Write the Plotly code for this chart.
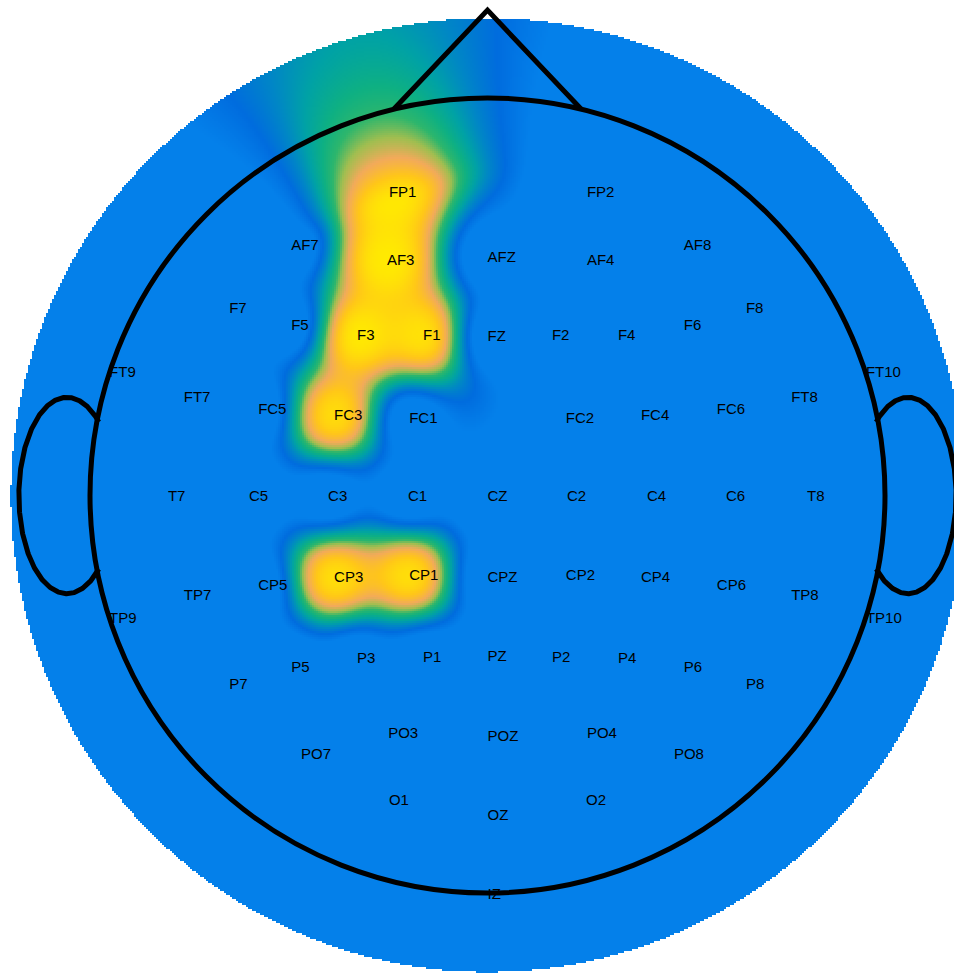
import numpy as np
import plotly.graph_objects as go

# Channel montage (head units: head circle radius = 1) and measured amplitudes
channels = ["FP1", "FP2", "AF7", "AF3", "AFZ", "AF4", "AF8",
            "F7", "F5", "F3", "F1", "FZ", "F2", "F4", "F6", "F8",
            "FT9", "FT7", "FC5", "FC3", "FC1", "FC2", "FC4", "FC6", "FT8", "FT10",
            "T7", "C5", "C3", "C1", "CZ", "C2", "C4", "C6", "T8",
            "TP9", "TP7", "CP5", "CP3", "CP1", "CPZ", "CP2", "CP4", "CP6", "TP8", "TP10",
            "P7", "P5", "P3", "P1", "PZ", "P2", "P4", "P6", "P8",
            "PO7", "PO3", "POZ", "PO4", "PO8",
            "O1", "OZ", "O2", "IZ"]
pos_x = [-0.248, 0.250, -0.494, -0.253, 0.000, 0.250, 0.494,
         -0.650, -0.494, -0.328, -0.162, 0.000, 0.162, 0.328, 0.494, 0.650,
         -0.952, -0.764, -0.577, -0.386, -0.197, 0.197, 0.386, 0.577, 0.764, 0.952,
         -0.804, -0.600, -0.401, -0.200, 0.000, 0.200, 0.401, 0.600, 0.804,
         -0.952, -0.764, -0.577, -0.386, -0.197, 0.000, 0.197, 0.386, 0.577, 0.764, 0.952,
         -0.650, -0.494, -0.328, -0.162, 0.000, 0.162, 0.328, 0.494, 0.650,
         -0.469, -0.250, 0.000, 0.250, 0.469,
         -0.248, 0.000, 0.248, 0.000]
pos_y = [0.761, 0.761, 0.628, 0.590, 0.597, 0.590, 0.628,
         0.469, 0.426, 0.401, 0.401, 0.399, 0.401, 0.401, 0.426, 0.469,
         0.308, 0.245, 0.215, 0.200, 0.192, 0.192, 0.200, 0.215, 0.245, 0.308,
         -0.004, -0.004, -0.004, -0.004, -0.004, -0.004, -0.004, -0.004, -0.004,
         -0.311, -0.253, -0.228, -0.208, -0.203, -0.208, -0.203, -0.208, -0.228, -0.253, -0.311,
         -0.477, -0.434, -0.411, -0.409, -0.406, -0.409, -0.411, -0.434, -0.477,
         -0.653, -0.600, -0.608, -0.600, -0.653,
         -0.769, -0.806, -0.769, -1.005]
amplitude = [1.00, 0.00, 0.00, 1.00, 0.00, 0.00, 0.00,
             0.00, 0.00, 1.00, 0.97, 0.00, 0.00, 0.00, 0.00, 0.00,
             0.00, 0.00, 0.00, 0.95, 0.00, 0.00, 0.00, 0.00, 0.00, 0.00,
             0.00, 0.00, 0.00, 0.00, 0.00, 0.00, 0.00, 0.00, 0.00,
             0.00, 0.00, 0.00, 0.96, 0.96, 0.00, 0.00, 0.00, 0.00, 0.00, 0.00,
             0.00, 0.00, 0.00, 0.00, 0.00, 0.00, 0.00, 0.00, 0.00,
             0.00, 0.00, 0.00, 0.00, 0.00,
             0.00, 0.00, 0.00, 0.00]

ex = np.array(pos_x)
ey = np.array(pos_y)
ev = np.array(amplitude)


def idw(px, py, power=3.5, background_weight=20.0):
    """Inverse-distance weighted channel field with a zero-valued background term."""
    num = np.zeros_like(px)
    den = np.full_like(px, background_weight)
    for x0, y0, val in zip(ex, ey, ev):
        w = 1.0 / np.maximum(np.hypot(px - x0, py - y0), 1e-4) ** power
        num += w * val
        den += w
    return num / den


def gaussian_smooth(field, sigma):
    """Separable Gaussian smoothing of a 2-D grid (edge padded)."""
    half = int(3 * sigma)
    k = np.exp(-0.5 * (np.arange(-half, half + 1) / sigma) ** 2)
    k /= k.sum()
    padded = np.pad(field, half, mode="edge")
    rows = np.apply_along_axis(lambda r: np.convolve(r, k, mode="valid"), 1, padded)
    return np.apply_along_axis(lambda c: np.convolve(c, k, mode="valid"), 0, rows)


def circular_smooth(profile, sigma_deg, dtheta_deg):
    """Gaussian smoothing of a periodic angular profile."""
    half = int(3 * sigma_deg / dtheta_deg)
    k = np.exp(-0.5 * (np.arange(-half, half + 1) * dtheta_deg / sigma_deg) ** 2)
    k /= k.sum()
    wrapped = np.concatenate([profile[-half:], profile, profile[:half]])
    return np.convolve(wrapped, k, mode="valid")


# Interpolation grid covering the plotting disk (radius 1.2)
DISK_R = 1.2
RING_R = 0.8          # radius of the outermost 10-10 ring
step = 2.0 / 397.5
gx = np.arange(-DISK_R - 0.05, DISK_R + 0.05 + step, step)
gy = np.arange(-DISK_R - 0.05, DISK_R + 0.05 + step, step)
U, V = np.meshgrid(gx, gy)
R = np.hypot(U, V)
TH = np.arctan2(V, U)

# inside the ring: direct interpolation
Z_in = idw(U, V)

# outside the ring: the ring profile is carried outwards, widening and decaying
n_theta = 1440
theta = np.linspace(-np.pi, np.pi, n_theta, endpoint=False)
ring = idw(RING_R * np.cos(theta), RING_R * np.sin(theta))
dth = 360.0 / n_theta
ring_near = circular_smooth(ring, 3.0, dth)
ring_far = circular_smooth(ring, 11.0, dth)
per = lambda prof: np.interp(TH, theta, prof, period=2 * np.pi)
beta = np.clip((R - RING_R) / (DISK_R - RING_R), 0.0, 1.0)
decay = 0.45 + 0.55 * np.exp(-np.maximum(R - RING_R, 0.0) / 0.16)
Z_out = ((1 - beta) * per(ring_near) + beta * per(ring_far)) * decay

Z = np.where(R <= RING_R, Z_in, Z_out)
Z = gaussian_smooth(Z, 5.0)
Z = np.where(R <= DISK_R, np.round(Z, 3), np.nan)

colorscale = [
    [0.00, "rgb(4,128,234)"],
    [0.09, "rgb(4,128,234)"],
    [0.17, "rgb(0,108,222)"],
    [0.26, "rgb(0,134,198)"],
    [0.35, "rgb(0,162,165)"],
    [0.44, "rgb(14,176,130)"],
    [0.52, "rgb(45,182,108)"],
    [0.61, "rgb(160,190,80)"],
    [0.72, "rgb(242,170,90)"],
    [0.85, "rgb(255,198,24)"],
    [1.00, "rgb(255,236,0)"],
]

fig = go.Figure()
fig.add_trace(go.Heatmap(
    x=gx, y=gy, z=Z, zmin=0, zmax=1,
    colorscale=colorscale, showscale=False, hoverinfo="skip",
))

# channel labels
fig.add_trace(go.Scatter(
    x=pos_x, y=pos_y, text=channels, mode="text",
    textposition="middle right",
    textfont=dict(family="Arial, Liberation Sans, sans-serif", size=15, color="#000000"),
    hoverinfo="skip", showlegend=False,
))

# ears: outer part of an ellipse on each side of the head
t = np.linspace(-np.pi, np.pi, 721)
for side in (-1, 1):
    xs = side * (1.058 + 0.121 * np.cos(t))
    ys = 0.247 * np.sin(t)
    keep = np.hypot(xs, ys) >= 0.995
    fig.add_trace(go.Scatter(x=xs[keep], y=ys[keep], mode="lines",
                             line=dict(color="black", width=5),
                             hoverinfo="skip", showlegend=False))

# head outline and nose
fig.add_shape(type="circle", xref="x", yref="y", x0=-1, x1=1, y0=-1, y1=1,
              line=dict(color="black", width=5))
nb = 0.236
ny = np.sqrt(1 - nb ** 2)
fig.add_shape(type="path", xref="x", yref="y",
              path=f"M {-nb},{ny:.4f} L 0,1.221 L {nb},{ny:.4f}",
              line=dict(color="black", width=5))

W, H = 954, 973
cx_px, cy_px, rad_px = 487.5, 495.5, 397.5
fig.update_layout(
    width=W, height=H,
    margin=dict(l=0, r=0, t=0, b=0),
    paper_bgcolor="white", plot_bgcolor="white",
    showlegend=False,
    xaxis=dict(range=[-cx_px / rad_px, (W - cx_px) / rad_px], visible=False, fixedrange=True),
    yaxis=dict(range=[(cy_px - H) / rad_px, cy_px / rad_px], visible=False, fixedrange=True),
)

fig.write_html("out.html")
